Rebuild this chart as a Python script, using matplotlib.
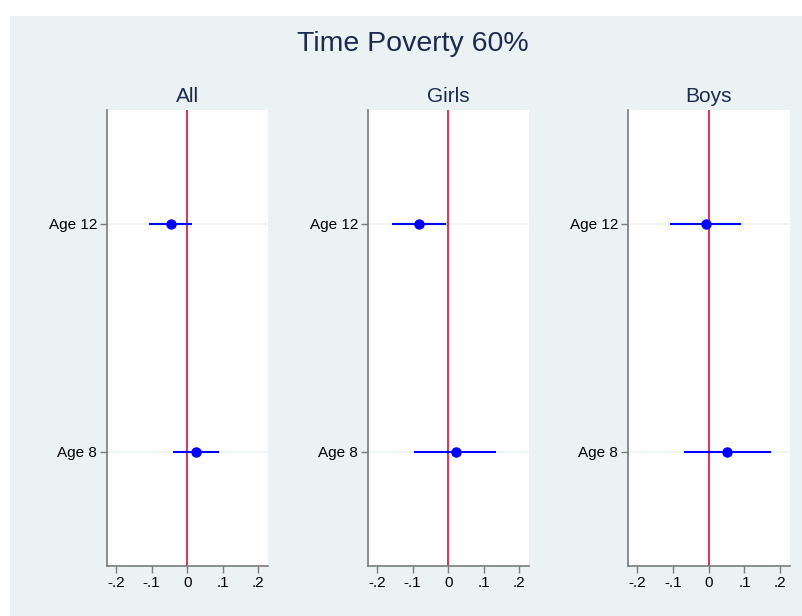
import matplotlib.pyplot as plt
from matplotlib.patches import Rectangle

# data
groups = ["All", "Girls", "Boys"]
ages = ["Age 8", "Age 12"]
coef_age8 = [0.026, 0.022, 0.052]
lo_age8 = [-0.039, -0.095, -0.068]
hi_age8 = [0.090, 0.135, 0.174]
coef_age12 = [-0.046, -0.082, -0.008]
lo_age12 = [-0.107, -0.157, -0.107]
hi_age12 = [0.015, -0.006, 0.089]
xticks = [-0.2, -0.1, 0, 0.1, 0.2]
xtick_labels = ["-.2", "-.1", "0", ".1", ".2"]

plt.rcParams['font.family'] = ['Liberation Sans', 'DejaVu Sans']

bg = '#eaf2f3'
navy = '#1c2a4f'
grey = '#7a7a7a'
blue = '#0000ff'
red = '#c8143c'

W, H = 803, 616
fig = plt.figure(figsize=(W / 100, H / 100), dpi=100, facecolor='white')
fig.patches.append(Rectangle((10 / W, 0), 1, 1 - 16 / H, transform=fig.transFigure,
                             facecolor=bg, edgecolor='none', zorder=-10))

fig.text(413 / W, 1 - 44 / H, "Time Poverty 60%", ha='center', va='center',
         fontsize=20.5, color=navy)

lefts = [107, 368, 628]
widths = [161, 161, 162]
for i, g in enumerate(groups):
    ax = fig.add_axes([lefts[i] / W, 1 - 566 / H, widths[i] / W, 456 / H])
    ax.set_facecolor('white')
    ax.set_xlim(-0.225, 0.227)
    ax.set_ylim(0.5, 2.5)

    # gridlines at categories
    for yy in [1, 2]:
        ax.axhline(yy, color='#edf3f3', lw=1.2, zorder=1)
    ax.axvline(0, color=red, lw=1.2, zorder=2)

    ax.hlines([1, 2], [lo_age8[i], lo_age12[i]], [hi_age8[i], hi_age12[i]],
              color=blue, lw=1.5, zorder=3)
    ax.plot([coef_age8[i], coef_age12[i]], [1, 2], 'o', color=blue, ms=6.5, zorder=4)

    ax.set_yticks([1, 2])
    ax.set_yticklabels(ages)
    ax.set_xticks(xticks)
    ax.set_xticklabels(xtick_labels)
    ax.tick_params(axis='both', colors=grey, labelcolor='black', labelsize=11,
                   length=5, width=1)
    ax.tick_params(axis='y', pad=2)
    ax.tick_params(axis='x', pad=2.5)
    for s in ['top', 'right']:
        ax.spines[s].set_visible(False)
    for s in ['left', 'bottom']:
        ax.spines[s].set_color(grey)
        ax.spines[s].set_linewidth(1.2)
    ax.set_title(g, fontsize=15, color=navy, pad=6)

fig.savefig("out.png", dpi=100, facecolor=fig.get_facecolor())
